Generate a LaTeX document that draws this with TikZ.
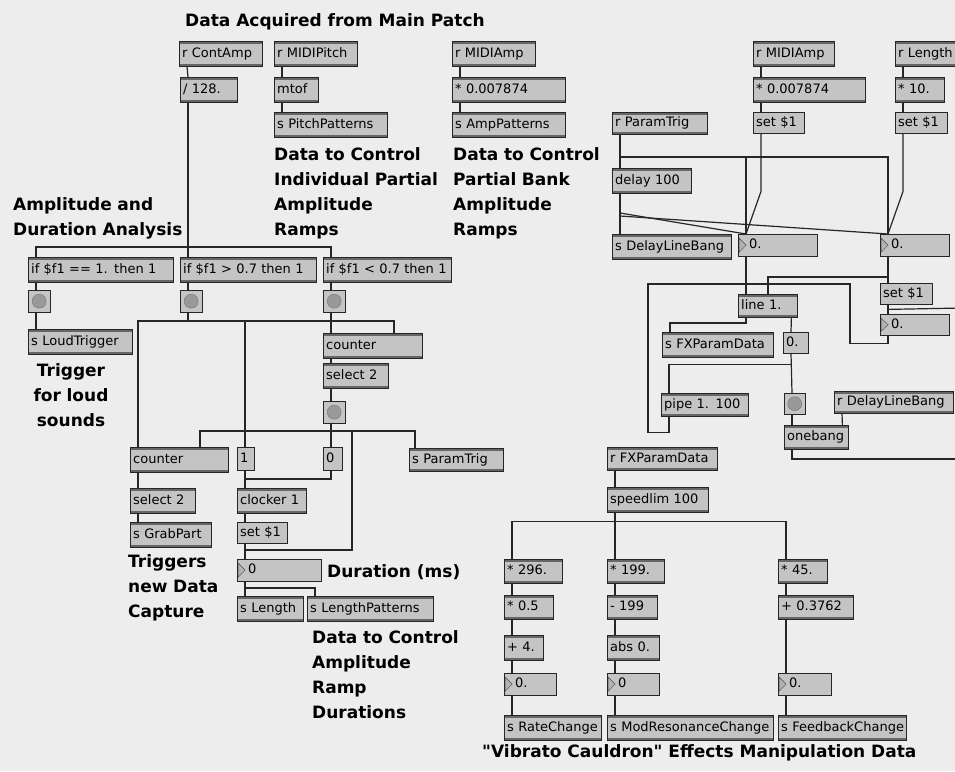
\documentclass[tikz,border=0pt]{standalone}
\usepackage{fontspec}
\newfontfamily\boxfont{DejaVu Sans}
\newfontfamily\notefont{DejaVu Sans}
\usepackage{tikz}
\usetikzlibrary{positioning}
\definecolor{paper}{HTML}{EDEDED}
\definecolor{boxgray}{HTML}{C4C4C4}
\tikzset{
	boxtext/.style={font=\boxfont\fontsize{13}{15}\selectfont}
}
\tikzset{
	notetext/.style={font=\notefont\bfseries\fontsize{17}{25}\selectfont}
}

\begin{document}
\begin{tikzpicture}[x=1pt,y=-1pt]

\tikzset{
    patchbox/.style={
        draw=black!85,
        fill=boxgray,
        anchor=north west,
        minimum height=25pt,
        text width=#1pt-6pt,
        inner xsep=3pt,
        inner ysep=0pt,
        text height=9.5pt,
        text depth=2pt,
        align=left,
        execute at begin node={\hbox\bgroup},
        execute at end node={\egroup},
        boxtext
    },
    objbox/.style={
        patchbox=#1,
        path picture={
            \fill[black!60] (path picture bounding box.north west) rectangle ([yshift=-2.5pt]path picture bounding box.north east);
            \fill[black!60] (path picture bounding box.south west) rectangle ([yshift=2.5pt]path picture bounding box.south east);
        }
    },
    msgbox/.style={
        patchbox=#1,
        minimum height=21pt
    },
    numbox/.style={
        patchbox=#1,
        minimum height=22pt,
        execute at begin node={\hspace*{8pt}},
        path picture={
            \draw[black!70, fill=black!30] ([xshift=1pt,yshift=-4pt]path picture bounding box.north west) -- ([xshift=8pt]path picture bounding box.west) -- ([xshift=1pt,yshift=4pt]path picture bounding box.south west) -- cycle;
        }
    },
    bangbox/.style={
        draw=black!85,
        fill=boxgray,
        anchor=north west,
        minimum size=22pt,
        inner sep=0pt,
        path picture={\filldraw[draw=black!55, fill=black!40] (path picture bounding box.center) circle (7pt);}
    },
    wire/.style={draw=black!85, line width=1.2pt},
    note/.style={notetext, anchor=base west, align=left, inner sep=0pt}
}

\useasboundingbox (0,0) rectangle (955,771);
\fill[paper] (0,0) rectangle (955,771);

% data from the main patch
\node[note] (title) at (185,27) {Data Acquired from Main Patch};
\node[objbox=83] (contamp) at (179,41) {r ContAmp};
\node[objbox=57] (div) at (180,77) {/ 128.};
\node[objbox=83] (midipitch) at (274,41) {r MIDIPitch};
\node[objbox=44] (mtof) at (274,77) {mtof};
\node[objbox=113] (spitch) at (274,112) {s PitchPatterns};
\node[objbox=83] (midiamp) at (452,41) {r MIDIAmp};
\node[objbox=113] (ampscale) at (452,77) {* 0.007874};
\node[objbox=113] (samp) at (452,112) {s AmpPatterns};
\node[note, text width=180pt] (pitchnote) at (274,160) {Data to Control\\Individual Partial\\Amplitude\\Ramps};
\node[note, text width=160pt] (ampnote) at (453,160) {Data to Control\\Partial Bank\\Amplitude\\Ramps};
\node[note, text width=180pt] (analysisnote) at (13,210) {Amplitude and\\Duration Analysis};

% amplitude and duration analysis
\node[objbox=145] (ifeq) at (28,257) {if \$f1 == 1. then 1};
\node[objbox=136] (ifgt) at (180,257) {if \$f1 > 0.7 then 1};
\node[objbox=128] (iflt) at (323,257) {if \$f1 < 0.7 then 1};
\node[bangbox] (bangA) at (28,290) {};
\node[bangbox] (bangB) at (180,290) {};
\node[bangbox] (bangC) at (323,290) {};
\node[objbox=104] (sloud) at (28,329) {s LoudTrigger};
\node[note, text width=90pt, align=center, anchor=base] (loudnote) at (71,376) {Trigger\\for loud\\sounds};
\node[objbox=99] (countR) at (323,333) {counter};
\node[objbox=65] (selR) at (323,363) {select 2};
\node[bangbox] (bangD) at (323,401) {};
\node[objbox=98] (countL) at (130,447) {counter};
\node[msgbox=17, minimum height=23pt] (msg1) at (237,447) {1};
\node[msgbox=19, minimum height=23pt] (msg0) at (323,447) {0};
\node[objbox=94, minimum height=23pt] (sparam) at (409,448) {s ParamTrig};
\node[objbox=65] (selL) at (130,488) {select 2};
\node[objbox=69] (clocker) at (237,488) {clocker 1};
\node[objbox=81] (sgrab) at (130,522) {s GrabPart};
\node[msgbox=50] (setL) at (237,522) {set \$1};
\node[numbox=84] (numdur) at (237,559) {0};
\node[note] (durnote) at (327,577) {Duration (ms)};
\node[objbox=66] (slength) at (237,596) {s Length};
\node[objbox=126] (slenpat) at (307,596) {s LengthPatterns};
\node[note, text width=120pt] (grabnote) at (128,567) {Triggers\\new Data\\Capture};
\node[note, text width=180pt] (lennote) at (312,643) {Data to Control\\Amplitude\\Ramp\\Durations};

% effect parameter ramps
\node[objbox=81] (midiampR) at (753,41) {r MIDIAmp};
\node[objbox=112] (ampscaleR) at (753,77) {* 0.007874};
\node[msgbox=51] (setA) at (753,112) {set \$1};
\node[objbox=75] (rlength) at (895,41) {r Length};
\node[objbox=49] (mul10) at (895,77) {* 10.};
\node[msgbox=52] (setB) at (895,112) {set \$1};
\node[objbox=95, minimum height=22pt] (rparam) at (612,112) {r ParamTrig};
\node[objbox=79] (delay) at (612,168) {delay 100};
\node[objbox=119] (sdelay) at (612,234) {s DelayLineBang};
\node[numbox=79] (numA) at (738,234) {0.};
\node[numbox=69] (numB) at (880,234) {0.};
\node[objbox=59, minimum height=23pt] (line1) at (738,294) {line 1.};
\node[msgbox=52] (setC) at (880,283) {set \$1};
\node[numbox=69, minimum height=21pt] (numC) at (880,314) {0.};
\node[objbox=111] (sfx) at (662,332) {s FXParamData};
\node[msgbox=25] (msgz) at (783,332) {0.};
\node[objbox=87, minimum height=23pt] (pipe) at (661,393) {pipe 1. 100};
\node[bangbox, minimum size=21pt] (bangE) at (784,393) {};
\node[objbox=119, minimum height=22pt] (rdelay) at (834,391) {r DelayLineBang};
\node[objbox=64, minimum height=24pt] (onebang) at (784,425) {onebang};
\coordinate (offA) at (962,308);
\coordinate (offB) at (962,459);

% vibrato cauldron data
\node[objbox=110, minimum height=23pt] (rfx) at (607,447) {r FXParamData};
\node[objbox=101] (speed) at (607,487) {speedlim 100};
\node[objbox=58, minimum height=24pt] (m296) at (504,559) {* 296.};
\node[objbox=49, minimum height=24pt] (m05) at (504,595) {* 0.5};
\node[objbox=39] (p4) at (504,635) {+ 4.};
\node[numbox=52] (numR) at (504,673) {0.};
\node[objbox=97] (srate) at (504,715) {s RateChange};
\node[objbox=57, minimum height=24pt] (m199) at (607,559) {* 199.};
\node[objbox=50, minimum height=24pt] (s199) at (607,595) {- 199};
\node[objbox=52] (absv) at (607,635) {abs 0.};
\node[numbox=52] (numM) at (607,673) {0};
\node[objbox=166] (smod) at (607,715) {s ModResonanceChange};
\node[objbox=49, minimum height=24pt] (m45) at (778,559) {* 45.};
\node[objbox=75, minimum height=24pt] (p3762) at (778,595) {+ 0.3762};
\node[numbox=53] (numF) at (778,673) {0.};
\node[objbox=128] (sfb) at (778,715) {s FeedbackChange};
\node[note] (fxnote) at (482,757) {"Vibrato Cauldron" Effects Manipulation Data};

% wires, top left
\draw[wire] ([xshift=8pt]contamp.south west) -- ([xshift=8pt]div.north west);
\draw[wire] ([xshift=8pt]div.south west) -- ([xshift=8pt]ifgt.north west);
\draw[wire] ([xshift=8pt]ifeq.north west) -- ++(0,-10) -| ([xshift=8pt]iflt.north west);
\draw[wire] ([xshift=8pt]midipitch.south west) -- ([xshift=8pt]mtof.north west);
\draw[wire] ([xshift=8pt]mtof.south west) -- ([xshift=8pt]spitch.north west);
\draw[wire] ([xshift=8pt]midiamp.south west) -- ([xshift=8pt]ampscale.north west);
\draw[wire] ([xshift=8pt]ampscale.south west) -- ([xshift=8pt]samp.north west);

% wires, analysis
\draw[wire] ([xshift=8pt]ifeq.south west) -- ([xshift=8pt]bangA.north west);
\draw[wire] ([xshift=8pt]bangA.south west) -- ([xshift=8pt]sloud.north west);
\draw[wire] ([xshift=8pt]ifgt.south west) -- ([xshift=8pt]bangB.north west);
\draw[wire] ([xshift=8pt]iflt.south west) -- ([xshift=8pt]bangC.north west);
\draw[wire] ([xshift=8pt]bangC.south west) -- ([xshift=8pt]countR.north west);
\coordinate (busB) at (138,321);
\draw[wire] ([xshift=8pt]bangB.south west) |- (busB) -- ([xshift=8pt]countL.north west);
\draw[wire] (busB) -| ([xshift=71pt]countR.north west);
\draw[wire] ([xshift=8pt]msg1.north west) |- (busB);
\draw[wire] ([xshift=8pt]countR.south west) -- ([xshift=8pt]selR.north west);
\draw[wire] ([xshift=8pt]selR.south west) -- ([xshift=8pt]bangD.north west);
\draw[wire] ([xshift=8pt]bangD.south west) -- ([xshift=8pt]msg0.north west);
\coordinate (busD) at (331,431);
\coordinate (tapD) at (352,431);
\draw[wire] ([xshift=70pt]countL.north west) |- (busD) -| ([xshift=6pt]sparam.north west);
\draw[wire] (tapD) |- ([xshift=8pt,yshift=9pt]numdur.north west) -- ([xshift=8pt]numdur.north west);
\draw[wire] ([xshift=8pt]msg0.south west) |- ([xshift=8pt,yshift=9pt]clocker.north west) -- ([xshift=8pt]clocker.north west);
\draw[wire] ([xshift=8pt]msg1.south west) -- ([xshift=8pt]clocker.north west);
\draw[wire] ([xshift=8pt]countL.south west) -- ([xshift=8pt]selL.north west);
\draw[wire] ([xshift=8pt]selL.south west) -- ([xshift=8pt]sgrab.north west);
\draw[wire] ([xshift=8pt]clocker.south west) -- ([xshift=8pt]setL.north west);
\draw[wire] ([xshift=8pt]setL.south west) -- ([xshift=8pt]numdur.north west);
\draw[wire] ([xshift=8pt]numdur.south west) -- ([xshift=8pt]slength.north west);
\draw[wire] ([xshift=8pt]numdur.south west) |- ([xshift=8pt,yshift=8pt]slenpat.north west) -- ([xshift=8pt]slenpat.north west);

% wires, parameter ramps
\draw[wire] ([xshift=8pt]midiampR.south west) -- ([xshift=8pt]ampscaleR.north west);
\draw[wire] ([xshift=8pt]ampscaleR.south west) -- ([xshift=8pt]setA.north west);
\draw[wire] ([xshift=8pt]setA.south west) -- ++(0,58) -- ([xshift=8pt]numA.north west);
\draw[wire] ([xshift=8pt]rlength.south west) -- ([xshift=8pt]mul10.north west);
\draw[wire] ([xshift=8pt]mul10.south west) -- ([xshift=8pt]setB.north west);
\draw[wire] ([xshift=8pt]setB.south west) -- ++(0,58) -- ([xshift=8pt]numB.north west);
\coordinate (busP) at (620,157);
\coordinate (tapL) at (620,213);
\draw[wire] ([xshift=8pt]rparam.south west) -- ([xshift=8pt]delay.north west);
\draw[wire] (busP) -| ([xshift=8pt]numA.north west);
\draw[wire] (busP) -| ([xshift=8pt]numB.north west);
\draw[wire] ([xshift=8pt]delay.south west) -- ([xshift=8pt]sdelay.north west);
\draw[wire] (tapL) -- ([xshift=8pt]numA.north west);
\draw[wire] ([yshift=-3pt]tapL) -- ([xshift=8pt]numB.north west);
\draw[wire] ([xshift=8pt]numA.south west) -- ([xshift=8pt]line1.north west);
\draw[wire] ([xshift=8pt]numB.south west) -- ([xshift=8pt]setC.north west);
\draw[wire] ([xshift=30pt]line1.north west) |- ([xshift=8pt,yshift=6pt]setC.north west);
\draw[wire] ([xshift=8pt]setC.south west) -- ([xshift=8pt]numC.north west);
\draw[wire] ([xshift=8pt,yshift=-5pt]setC.south west) -- (offA);
\coordinate (loopL) at (648,284);
\coordinate (loopR) at (850,284);
\draw[wire] ([xshift=8pt]numC.south west) -- ++(0,8) -| (loopR) -- (loopL) |- ([xshift=8pt,yshift=-16pt]pipe.south west) -- ([xshift=8pt]pipe.south west);
\draw[wire] ([xshift=8pt]line1.south west) |- ([xshift=8pt,yshift=9pt]sfx.north west) -- ([xshift=8pt]sfx.north west);
\draw[wire] ([xshift=-6pt]line1.south east) -- ([xshift=8pt]msgz.north west);
\draw[wire] ([xshift=8pt]msgz.south west) -- ([xshift=8pt]bangE.north west);
\draw[wire] ([xshift=8pt]pipe.north west) |- ([xshift=8pt,yshift=-11pt]msgz.south west);
\draw[wire] ([xshift=8pt]bangE.south west) -- ([xshift=8pt]onebang.north west);
\draw[wire] ([xshift=8pt]rdelay.south west) -- ([xshift=-6pt]onebang.north east);
\draw[wire] ([xshift=8pt]onebang.south west) |- (offB);

% wires, effects data
\draw[wire] ([xshift=8pt]rfx.south west) -- ([xshift=8pt]speed.north west);
\draw[wire] ([xshift=8pt]speed.south west) -- ([xshift=8pt]m199.north west);
\draw[wire] ([xshift=8pt]m296.north west) |- ([xshift=8pt,yshift=-9pt]speed.south west) -| ([xshift=8pt]m45.north west);
\draw[wire] ([xshift=8pt]m296.south west) -- ([xshift=8pt]m05.north west);
\draw[wire] ([xshift=8pt]m05.south west) -- ([xshift=8pt]p4.north west);
\draw[wire] ([xshift=8pt]p4.south west) -- ([xshift=8pt]numR.north west);
\draw[wire] ([xshift=8pt]numR.south west) -- ([xshift=8pt]srate.north west);
\draw[wire] ([xshift=8pt]m199.south west) -- ([xshift=8pt]s199.north west);
\draw[wire] ([xshift=8pt]s199.south west) -- ([xshift=8pt]absv.north west);
\draw[wire] ([xshift=8pt]absv.south west) -- ([xshift=8pt]numM.north west);
\draw[wire] ([xshift=8pt]numM.south west) -- ([xshift=8pt]smod.north west);
\draw[wire] ([xshift=8pt]m45.south west) -- ([xshift=8pt]p3762.north west);
\draw[wire] ([xshift=8pt]p3762.south west) -- ([xshift=8pt]numF.north west);
\draw[wire] ([xshift=8pt]numF.south west) -- ([xshift=8pt]sfb.north west);
\end{tikzpicture}
\end{document}
